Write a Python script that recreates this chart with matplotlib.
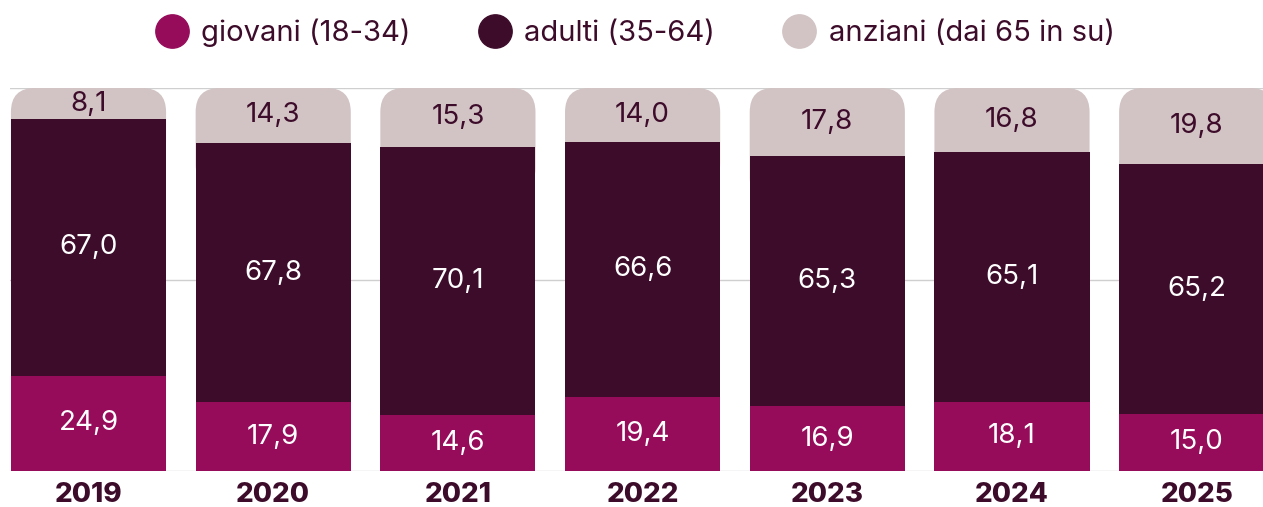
import matplotlib
matplotlib.use("Agg")
import matplotlib.pyplot as plt
from matplotlib.patches import FancyBboxPatch
from matplotlib.lines import Line2D

years = ["2019", "2020", "2021", "2022", "2023", "2024", "2025"]
giovani = [24.9, 17.9, 14.6, 19.4, 16.9, 18.1, 15.0]
adulti = [67.0, 67.8, 70.1, 66.6, 65.3, 65.1, 65.2]
anziani = [8.1, 14.3, 15.3, 14.0, 17.8, 16.8, 19.8]
labels = ["giovani (18-34)", "adulti (35-64)", "anziani (dai 65 in su)"]

C_GIO = "#960c5a"
C_ADU = "#3d0c2a"
C_ANZ = "#d2c3c4"
C_TXT = "#3d0c2a"

plt.rcParams["font.family"] = ["Inter", "DejaVu Sans"]

W, H = 1263, 507
fig = plt.figure(figsize=(W / 100, H / 100), dpi=100)
ax_left, ax_bot, ax_top = 10, 471, 88
ax = fig.add_axes([ax_left / W, (H - ax_bot) / H, (W - ax_left) / W, (ax_bot - ax_top) / H])

step = 184.7  # px per category
xmin = -(88.5 - ax_left) / step
xmax = (W - 88.5) / step
ax.set_xlim(xmin, xmax)
ax.set_ylim(0, 100)
bw = 0.84

x = list(range(len(years)))
for g in (0, 50, 100):
    ax.axhline(g, color="#cfcfcf", lw=1, zorder=0)

# rounded top segment, drawn first and overlapped by the lower segments
px_x = step
px_y = (ax_bot - ax_top) / 100
aspect = px_x / px_y
r = 24 / px_x
for xi, g, a, z in zip(x, giovani, adulti, anziani):
    base = g + a - 12
    patch = FancyBboxPatch((xi - bw / 2, base), bw, 100 - base,
                           boxstyle=f"round,pad=0,rounding_size={r}",
                           mutation_aspect=aspect, fc=C_ANZ, ec="none", zorder=1)
    ax.add_patch(patch)

ax.bar(x, giovani, width=bw, color=C_GIO, zorder=2)
ax.bar(x, adulti, width=bw, bottom=giovani, color=C_ADU, zorder=2)

def fmt(v):
    return f"{v:.1f}".replace(".", ",")

for xi, g, a, z in zip(x, giovani, adulti, anziani):
    ax.text(xi, g / 2, fmt(g), ha="center", va="center", color="white", fontsize=20, zorder=3)
    ax.text(xi, g + a / 2, fmt(a), ha="center", va="center", color="white", fontsize=20, zorder=3)
    ax.text(xi, g + a + z / 2, fmt(z), ha="center", va="center", color=C_TXT, fontsize=20, zorder=3)

ax.set_xticks(x)
ax.set_xticklabels(years, fontsize=20, fontweight="heavy", color=C_TXT)
ax.tick_params(axis="x", length=0, pad=8)
ax.set_yticks([])
for s in ax.spines.values():
    s.set_visible(False)

handles = [Line2D([], [], ls="none", marker="o", markersize=24, color=c)
           for c in (C_GIO, C_ADU, C_ANZ)]
leg = fig.legend(handles, labels, loc="center", bbox_to_anchor=(0.504, 1 - 33 / H),
                 ncol=3, frameon=False, fontsize=21, handletextpad=0.55,
                 columnspacing=2.45, handlelength=0.9)
for t in leg.get_texts():
    t.set_color(C_TXT)

fig.savefig("out.png", dpi=100)
